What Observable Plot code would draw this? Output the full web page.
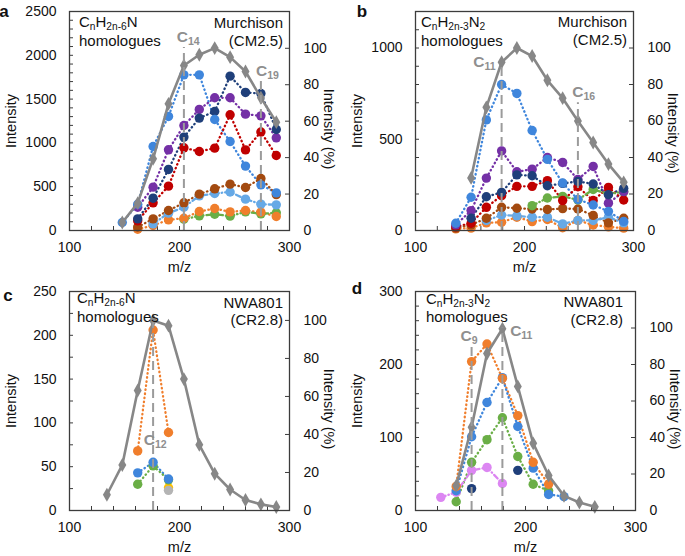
<!DOCTYPE html>
<html><head><meta charset="utf-8">
<script src="https://cdn.jsdelivr.net/npm/d3@7"></script>
<script src="https://cdn.jsdelivr.net/npm/@observablehq/plot@0.6"></script>
<style>
body{margin:0;background:#fff;}
#wrap{position:relative;width:685px;height:556px;overflow:hidden;}
#wrap svg{position:absolute;}
</style></head><body><div id="wrap"></div>
<script>
// ---------------- data ----------------
const xTicks = [100, 200, 300];
const xMinor = d3.range(100, 301, 20);
const pctTicks = [0, 20, 40, 60, 80, 100];

// Panel a: CnH2n-6N, Murchison
const massA = [148, 162, 176, 190, 204, 218, 232, 246, 260, 274, 288];
const grayA = [91, 312, 818, 1446, 1884, 2006, 2082, 1979, 1815, 1515, 1237];
const blueA = [91, 300, 959, 1302, 1777, 1777, 1267, 1016, 735, 521, 430];
const navyA = [null, 133, 369, 697, 1066, 1283, 1359, 1762, 1576, 1564, 1153];
const purpleA = [null, 266, 495, 921, 1199, 1382, 1515, 1515, 1328, 1309, 1058];
const redA = [null, 110, 316, 506, 944, 902, 940, 1321, 920, 1125, 856];
const brownA = [null, 40, 133, 228, 316, 415, 476, 529, 491, 594, 410];
const lblueA = [null, null, 76, 198, 266, 396, 423, 440, 358, 301, 293];
const orangeA = [null, 15, 57, 122, 140, 217, 251, 213, 228, 209, 160];
const greenA = [null, null, null, null, 129, 167, 186, 164, 213, 190, 202];
const markA = [204, 274], markTopA = [2090, 1705], markSubA = ["14", "19"];
const labMA = [198, 270], labIA = [2150, 1760];

// Panel b: CnH2n-3N2, Murchison
const massB = [137, 151, 165, 179, 193, 207, 221, 235, 249, 263, 277, 291];
const grayMassB = [151, 165, 179, 193, 207, 221, 235, 249, 263, 277, 291];
const grayB = [288, 675, 922, 1000, 956, 823, 725, 600, 482, 364, 264];
const blueB = [40, 182, 606, 800, 751, 548, 390, 260, 170, 140, 105, 50];
const navyB = [null, 67, 185, 209, 305, 300, 245, 258, 269, 255, 196, 231];
const purpleB = [31, 109, 287, 436, 322, 336, 400, 373, 280, 351, 150, 213];
const redB = [20, 40, 127, 191, 242, 242, 273, 164, 240, 164, 236, 167];
const greenB = [null, null, null, null, null, 136, 178, 187, 168, 225, 200, 212];
const brownB = [13, 31, 67, 127, 122, 118, 115, 120, 118, 83, 42, 67];
const lblueB = [null, null, 55, 85, 80, 73, 73, 36, 55, 55, 73, 42];
const orangeB = [9, 13, 42, 45, 73, 49, 60, 15, 55, 30, 20, 13];
const markB = [179, 249], markTopB = [905, 700], markSubB = ["11", "16"];
const labMB = [153.5, 244.3], labIB = [895, 727];

// Panel c: CnH2n-6N, NWA801
const massC = [162, 176, 190];
const grayMassC = [134, 148, 162, 176, 190, 204, 218, 232, 246, 260, 274, 288];
const grayC = [18, 52, 137, 217, 211, 150, 75, 42, 24, 12, 7, 4];
const orangeC = [68, 206, 89];
const blueC = [43, 55, 36];
const greenC = [30, 51, 35];
const yellowC = [null, null, 26];
const lgrayC = [null, null, 23];
const markC = [176], markTopC = [217], markSubC = ["12"];
const labMC = [168], labIC = [74];

// Panel d: CnH2n-3N2, NWA801
const massD = [123, 137, 151, 165, 179, 193, 207, 221, 235];
const grayMassD = [137, 151, 165, 179, 193, 207, 221, 235, 249, 263];
const grayD = [34, 114, 215, 249, 170, 92, 48, 20, 11, 5];
const orangeD = [null, 33, 204, 228, 181, 130, 66, 36, null];
const blueD = [null, 27, 101, 148, 182, 115, 58, 22, 19];
const greenD = [null, 12, 66, 97, 127, 74, 36, 27, null];
const pinkD = [18, 25, 55, 59, 37, null, null, null, null];
const navyD = [null, null, 30, null, null, 55, null, null, null];
const markD = [151, 179], markTopD = [224, 250], markSubD = ["9", "11"];
const labMD = [141.3, 186.5], labID = [232, 238.6];

// ---------------- style ----------------
const FONT = '"Liberation Sans", Arial, Helvetica, sans-serif';
const AX = "#3c3c3c";
const GRAY = "#878787";
const COLORS = {blue:"#3f86dc", lblue:"#66a9e6", navy:"#1f3f7a", purple:"#7430a6", red:"#c00000",
  brown:"#a34a10", orange:"#f07e2c", green:"#6aae46", yellow:"#ffc000", lgray:"#b4b4b4", pink:"#dc86f2"};
const DOT = "0.5,3.6", DASHDOT = "5,3,0.5,3";

function rowsOf(ms, vs) { return ms.map((m, i) => ({m, v: vs[i]})).filter(d => d.v != null); }

function makePanel(p) {
  const fw = p.width - p.mL - p.mR, fh = p.height - p.mT - p.mB;
  const pct = pctTicks.map(v => v * p.k);
  const marks = [
    Plot.ruleY(p.yMinor, {insetRight: fw - 4, stroke: AX}),
    Plot.ruleY(pct, {insetLeft: fw - 4, stroke: AX}),
    Plot.ruleX(xMinor, {insetTop: fh - 4, stroke: AX})
  ];
  for (const s of p.series) {
    if (!s.line) continue;
    marks.push(Plot.line(rowsOf(p.masses, s.values), {x: "m", y: "v", stroke: COLORS[s.name], strokeWidth: 2.3,
      strokeDasharray: s.dash || DOT, strokeLinecap: "round"}));
  }
  for (const s of p.series.slice().reverse()) {
    marks.push(Plot.dot(rowsOf(p.masses, s.values), {x: "m", y: "v", r: 4.7, fill: COLORS[s.name]}));
  }
  const gr = rowsOf(p.grayMass, p.gray);
  marks.push(Plot.line(gr, {x: "m", y: "v", stroke: GRAY, strokeWidth: 2.6}));
  marks.push(Plot.dot(gr, {x: "m", y: "v", symbol: "diamond", r: 4.2, fill: GRAY}));
  marks.push(Plot.ruleX(p.mark.map((m, i) => ({m, top: p.markTop[i]})), {x: "m", y1: 0, y2: "top",
    stroke: "#9b9b9b", strokeWidth: 2, strokeDasharray: "9,5"}));
  marks.push(Plot.frame({stroke: AX, strokeWidth: 1.3}));
  marks.push(Plot.axisY(p.yTicks, {tickSize: 0, tickPadding: 13, label: null, tickFormat: d => String(d)}));
  marks.push(Plot.axisY(pct, {anchor: "right", tickSize: 0, tickPadding: 14, label: null,
    tickFormat: d => String(Math.round(d / p.k))}));
  marks.push(Plot.axisX(xTicks, {tickSize: 0, tickPadding: 12, label: null, tickFormat: d => String(d)}));
  marks.push(Plot.text(["Intensity"], {text: d => d, frameAnchor: "left", textAnchor: "middle", dx: -58, rotate: -90, fontSize: 14.5, fill: "#111"}));
  marks.push(Plot.text(["Intensity (%)"], {text: d => d, frameAnchor: "right", textAnchor: "middle", dx: 39, dy: p.rdy, rotate: 90, fontSize: 14.5, fill: "#111"}));
  marks.push(Plot.text(["m/z"], {text: d => d, frameAnchor: "bottom", textAnchor: "middle", dy: 41, fontSize: 14.5, fill: "#111"}));

  const plot = Plot.plot({
    width: p.width, height: p.height,
    marginLeft: p.mL, marginRight: p.mR, marginTop: p.mT, marginBottom: p.mB,
    x: {domain: [100, 300]}, y: {domain: [0, p.yMax]},
    style: {fontFamily: FONT, fontSize: "14px", color: "#111", background: "transparent", overflow: "visible"},
    marks
  });
  plot.style.left = p.left + "px";
  plot.style.top = p.top + "px";

  const sx = plot.scale("x"), sy = plot.scale("y");
  const g = d3.select(plot).append("g").attr("font-family", FONT);
  function rich(x, y, parts, size, anchor, fill, weight) {
    const t = g.append("text").attr("x", x).attr("y", y).attr("text-anchor", anchor)
      .attr("fill", fill).attr("font-weight", weight || "normal");
    let sub = false;
    const shift = size * 0.2;
    for (const [str, isSub] of parts) {
      const ts = t.append("tspan").text(str).attr("font-size", isSub ? size * 0.68 : size);
      if (isSub && !sub) ts.attr("dy", shift);
      if (!isSub && sub) ts.attr("dy", -shift);
      sub = isSub;
    }
    return t;
  }
  rich(p.mL + p.tdx, p.mT + p.fy, p.formula, 15, "start", "#111");
  rich(p.mL + p.tdx, p.mT + p.hy, [["homologues", false]], 15, "start", "#111");
  rich(p.mL + fw - p.sdx, p.mT + p.sy1, [[p.sample[0], false]], 15, "end", "#111");
  rich(p.mL + fw - p.sdx, p.mT + p.sy2, [[p.sample[1], false]], 15, "end", "#111");
  p.labM.forEach((m, i) => {
    rich(sx.apply(m), sy.apply(p.labI[i]), [["C", false], [p.markSub[i], true]], 15.5, "start", "#8f8f8f", "bold");
  });
  g.append("text").attr("x", p.letter[1]).attr("y", p.letter[2]).attr("font-size", 17)
    .attr("font-weight", "bold").attr("fill", "#111").text(p.letter[0]);
  document.getElementById("wrap").appendChild(plot);
}

const fA = [["C", false], ["n", true], ["H", false], ["2n-6", true], ["N", false]];
const fB = [["C", false], ["n", true], ["H", false], ["2n-3", true], ["N", false], ["2", true]];

makePanel({left: 0, top: 0, width: 340, height: 280, mL: 69, mR: 51, mT: 11, mB: 50,
  yMax: 2500, yTicks: d3.range(0, 2501, 500), yMinor: d3.range(0, 2501, 100), k: 20.8,
  masses: massA, grayMass: massA, gray: grayA, rdy: 8,
  series: [
    {name: "blue", values: blueA, line: true}, {name: "navy", values: navyA, line: true},
    {name: "purple", values: purpleA, line: true}, {name: "red", values: redA, line: true},
    {name: "brown", values: brownA, line: true}, {name: "lblue", values: lblueA, line: true, dash: DASHDOT},
    {name: "orange", values: orangeA, line: true}, {name: "green", values: greenA, line: true, dash: DASHDOT}],
  mark: markA, markTop: markTopA, markSub: markSubA, labM: labMA, labI: labIA,
  formula: fA, sample: ["Murchison", "(CM2.5)"], tdx: 10, fy: 16, hy: 35, sdx: 6, sy1: 17, sy2: 35,
  letter: ["a", 4, 17]});

makePanel({left: 346, top: 0, width: 339, height: 280, mL: 69, mR: 52, mT: 11, mB: 50,
  yMax: 1200, yTicks: [0, 500, 1000], yMinor: d3.range(0, 1201, 100), k: 10,
  masses: massB, grayMass: grayMassB, gray: grayB, rdy: 12,
  series: [
    {name: "blue", values: blueB, line: true}, {name: "navy", values: navyB, line: true},
    {name: "purple", values: purpleB, line: true}, {name: "red", values: redB, line: true},
    {name: "green", values: greenB, line: true, dash: DASHDOT}, {name: "brown", values: brownB, line: true},
    {name: "lblue", values: lblueB, line: true, dash: DASHDOT}, {name: "orange", values: orangeB, line: true}],
  mark: markB, markTop: markTopB, markSub: markSubB, labM: labMB, labI: labIB,
  formula: fB, sample: ["Murchison", "(CM2.5)"], tdx: 6, fy: 16, hy: 35, sdx: 6, sy1: 16, sy2: 34,
  letter: ["b", 16, 17]});

makePanel({left: 0, top: 280, width: 340, height: 276, mL: 69, mR: 51, mT: 11, mB: 46,
  yMax: 250, yTicks: d3.range(0, 251, 50), yMinor: d3.range(0, 251, 25), k: 2.17,
  masses: massC, grayMass: grayMassC, gray: grayC, rdy: 8,
  series: [
    {name: "orange", values: orangeC, line: true}, {name: "blue", values: blueC, line: true},
    {name: "green", values: greenC, line: true}, {name: "lgray", values: lgrayC, line: false},
    {name: "yellow", values: yellowC, line: false}],
  mark: markC, markTop: markTopC, markSub: markSubC, labM: labMC, labI: labIC,
  formula: fA, sample: ["NWA801", "(CR2.8)"], tdx: 8, fy: 12, hy: 31, sdx: 6, sy1: 17, sy2: 34,
  letter: ["c", 8, 21]});

makePanel({left: 346, top: 280, width: 339, height: 276, mL: 69, mR: 50, mT: 11, mB: 46,
  yMax: 300, yTicks: d3.range(0, 301, 100), yMinor: d3.range(0, 301, 20), k: 2.5,
  masses: massD, grayMass: grayMassD, gray: grayD, rdy: 8,
  series: [
    {name: "orange", values: orangeD, line: true}, {name: "blue", values: blueD, line: true},
    {name: "green", values: greenD, line: true}, {name: "pink", values: pinkD, line: true, dash: DASHDOT},
    {name: "navy", values: navyD, line: false}],
  mark: markD, markTop: markTopD, markSub: markSubD, labM: labMD, labI: labID,
  formula: fB, sample: ["NWA801", "(CR2.8)"], tdx: 11, fy: 12.5, hy: 31, sdx: 12, sy1: 16, sy2: 34,
  letter: ["d", 11, 14]});
</script></body></html>
